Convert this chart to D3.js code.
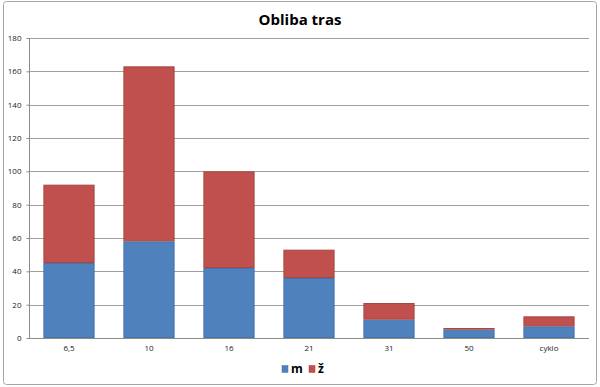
<!doctype html>
<html lang="cs">
<head>
  <meta charset="utf-8">
  <title>Obliba tras</title>
  <script src="https://cdn.jsdelivr.net/npm/d3@7"></script>
  <style>
    body { margin: 0; background: #fff; }
    svg text { font-family: "Open Sans", "DejaVu Sans", sans-serif; }
  </style>
</head>
<body>
  <div id="chart"></div>
  <script>
    // data
    var trasy = ["6,5", "10", "16", "21", "31", "50", "cyklo"];
    var muzi = [45, 58, 42, 36, 11, 5, 7];
    var zeny = [47, 105, 58, 17, 10, 1, 6];
    var serie = ["m", "ž"];
    var barvy = ["#4f81bd", "#c0504d"];
    var okraje = ["#4674ad", "#a94643"];
    var yTicks = [0, 20, 40, 60, 80, 100, 120, 140, 160, 180];

    var W = 600, H = 387;
    var margin = { top: 38, right: 11, bottom: 49, left: 29 },
      width = W - margin.left - margin.right,
      height = H - margin.top - margin.bottom;

    var svg = d3.select("#chart").append("svg")
      .attr("width", W)
      .attr("height", H);

    // chart frame
    svg.append("rect")
      .attr("x", 3.5).attr("y", 1.5)
      .attr("width", 593).attr("height", 383)
      .attr("rx", 3)
      .attr("fill", "#fff")
      .attr("stroke", "#a6a6a6");

    svg.append("text")
      .attr("x", W / 2).attr("y", 25)
      .attr("text-anchor", "middle")
      .style("font-size", "15px")
      .style("font-weight", "bold")
      .attr("fill", "#000")
      .text("Obliba tras");

    var g = svg.append("g")
      .attr("transform", "translate(" + margin.left + "," + margin.top + ")");

    var x = d3.scaleBand()
      .domain(trasy)
      .range([0, width])
      .paddingInner(0.36)
      .paddingOuter(0.18);

    var y = d3.scaleLinear()
      .domain([0, 180])
      .range([height, 0]);

    // gridlines
    g.append("g")
      .selectAll("line")
      .data(yTicks.slice(1))
      .enter().append("line")
      .attr("x1", 0).attr("x2", width)
      .attr("y1", function (d) { return Math.round(y(d)) + 0.5; })
      .attr("y2", function (d) { return Math.round(y(d)) + 0.5; })
      .attr("stroke", "#a0a0a0");

    // stacked bars
    var tabulka = trasy.map(function (t, i) { return { trasa: t, "m": muzi[i], "ž": zeny[i] }; });
    var stack = d3.stack().keys(serie)(tabulka);

    g.append("g")
      .selectAll("g")
      .data(stack)
      .enter().append("g")
      .attr("fill", function (d, i) { return barvy[i]; })
      .attr("stroke", function (d, i) { return okraje[i]; })
      .selectAll("rect")
      .data(function (d) { return d; })
      .enter().append("rect")
      .attr("x", function (d) { return x(d.data.trasa) + 0.5; })
      .attr("y", function (d) { return y(d[1]) + 0.5; })
      .attr("width", x.bandwidth() - 1)
      .attr("height", function (d) { return Math.max(0, y(d[0]) - y(d[1]) - 1); });

    // Y axis
    var yAxis = g.append("g")
      .attr("transform", "translate(0.5,0)")
      .call(d3.axisLeft(y).tickValues(yTicks).tickSize(3).tickPadding(5));
    yAxis.select(".domain").attr("stroke", "#8c8c8c").attr("d", "M0," + height + "V0");
    yAxis.selectAll(".tick line").attr("stroke", "#8c8c8c");
    yAxis.selectAll("text").style("font-size", "8px").attr("fill", "#222");

    // X axis
    var xAxis = g.append("g")
      .attr("transform", "translate(0," + (height + 0.5) + ")")
      .call(d3.axisBottom(x).tickSize(0).tickPadding(7));
    xAxis.select(".domain").attr("stroke", "#8c8c8c").attr("d", "M0,0H" + width);
    xAxis.selectAll("text").style("font-size", "8px").attr("fill", "#222");

    // legend
    var leg = svg.append("g").attr("transform", "translate(282,365)");
    var pozice = [0, 27];
    serie.forEach(function (s, i) {
      leg.append("rect")
        .attr("x", pozice[i]).attr("y", 0.5)
        .attr("width", 6).attr("height", 7)
        .attr("fill", barvy[i])
        .attr("stroke", okraje[i]).attr("stroke-width", 0.5);
      leg.append("text")
        .attr("x", pozice[i] + 9).attr("y", 8)
        .style("font-size", "12px")
        .style("font-weight", "bold")
        .attr("fill", "#000")
        .text(s);
    });
  </script>
</body>
</html>
